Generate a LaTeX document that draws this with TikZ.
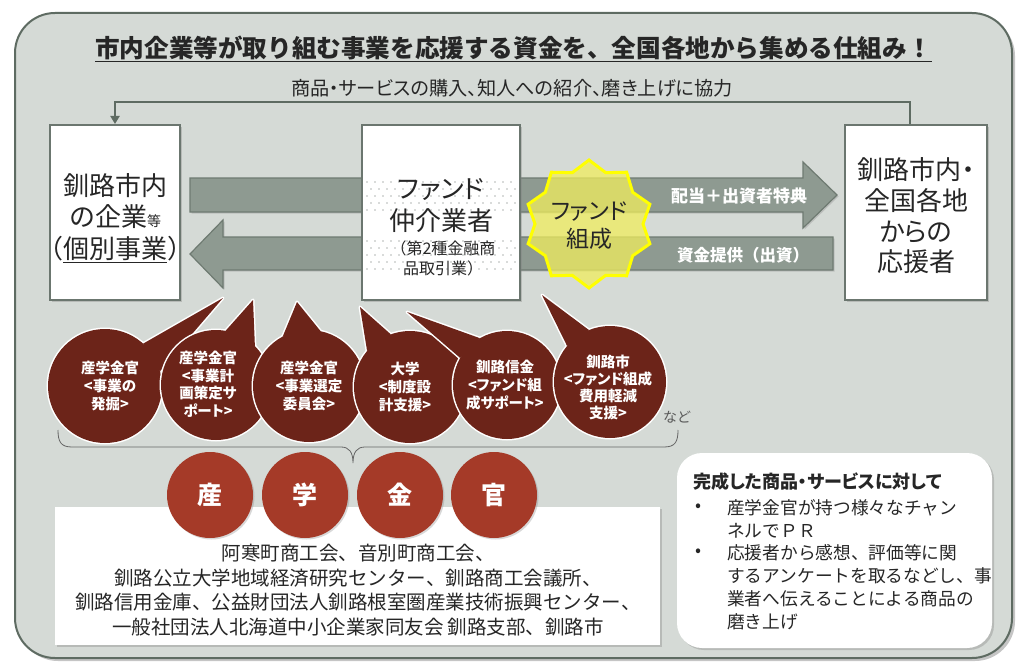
\documentclass[tikz,border=0pt]{standalone}
\usepackage{fontspec}
\setmainfont{Noto Sans CJK JP}
\newfontfamily\jpp{Noto Sans CJK JP}[RawFeature=+palt]
\usetikzlibrary{shadows,calc,arrows.meta}
\definecolor{bgc}{HTML}{D5DAD6}
\definecolor{framec}{HTML}{5E6B62}
\definecolor{arrowc}{HTML}{8E9A91}
\definecolor{arrowe}{HTML}{6E7A71}
\definecolor{boxe}{HTML}{6B766F}
\definecolor{txt}{HTML}{262626}
\definecolor{bubc}{HTML}{6C2419}
\definecolor{redc}{HTML}{A53A28}
\definecolor{starfill}{HTML}{F0EE5E}
\definecolor{stare}{HTML}{FFFF00}
\definecolor{dotc}{HTML}{B4B8B5}
\newcommand{\fs}[2]{\fontsize{#1}{#2}\selectfont}
\newcommand{\spbubble}[7]{%
  \path[draw=white,line width=3pt] (#1,#2) circle[radius=#3pt];
  \path[draw=white,line width=3pt,line join=round] ($(#1,#2)+(#4:#3)$) -- (#6,#7) -- ($(#1,#2)+(#5:#3)$) -- cycle;
  \fill[bubc] (#1,#2) circle[radius=#3pt];
  \fill[bubc] ($(#1,#2)+(#4:#3)$) -- (#6,#7) -- ($(#1,#2)+(#5:#3)$) -- cycle;
}
\begin{document}
\begin{tikzpicture}[x=1pt,y=-1pt,
  wbox/.style={draw=boxe, line width=2pt, fill=white, inner sep=0pt,
    drop shadow={shadow xshift=2pt, shadow yshift=-2pt, opacity=0.35}},
  plainbox/.style={fill=white, inner sep=0pt,
    drop shadow={shadow xshift=2pt, shadow yshift=-2pt, opacity=0.35}},
  bigarrow/.style={fill=arrowc, draw=arrowe, line width=1.2pt,
    drop shadow={shadow xshift=1.5pt, shadow yshift=-1.5pt, opacity=0.3}},
  txtn/.style={text=txt, inner sep=0pt, align=center},
  bubt/.style={text=white, font=\jpp\bfseries\fs{14.5}{18}, align=center, inner sep=0pt},
  redcirc/.style={circle, fill=redc, minimum size=86pt, inner sep=0pt, text=white,
    font=\bfseries\fs{25}{30},
    drop shadow={shadow xshift=1.5pt, shadow yshift=-1.5pt, opacity=0.3}},
  fbline/.style={draw=framec, line width=2.5pt, -{Triangle[width=9pt,length=8pt]}},
]
\useasboundingbox (0,0) rectangle (1024,663);
\fill[white] (0,0) rectangle (1024,663);
% outer frame
\path[fill=bgc, draw=framec, line width=2pt, rounded corners=40pt,
  drop shadow={shadow xshift=3pt, shadow yshift=-3pt, opacity=0.45}]
  (15,13) rectangle (1012,658);
% title
\node[txtn, font=\bfseries\fs{24.6}{30}] (title) at (513.5,47.5)
  {市内企業等が取り組む事業を応援する資金を、全国各地から集める仕組み！};
\draw[txt, line width=1.3pt] ([yshift=-2pt]title.south west) -- ([yshift=-2pt]title.south east);
\node[txtn, font=\jpp\fs{19.2}{22}] (sub) at (512,88)
  {商品・サービスの購入、知人への紹介、磨き上げに協力};
% big arrows
\path[bigarrow] (190,178) -- (803,178) -- (803,162) -- (837,195) -- (803,228) -- (803,212) -- (190,212) -- cycle;
\path[bigarrow] (833,237) -- (223,237) -- (223,220) -- (190,254) -- (223,288) -- (223,270) -- (833,270) -- cycle;
% boxes
\node[wbox, minimum width=130pt, minimum height=175pt] (lbox) at (115,212.5) {};
\node[wbox, minimum width=158pt, minimum height=175pt] (cbox) at (441,212.5) {};
\node[wbox, minimum width=142pt, minimum height=175pt] (rbox) at (916,212.5) {};
% dotted bands inside centre box
\foreach \r in {0,...,4}{
  \pgfmathsetmacro\yy{182+7*\r}
  \pgfmathsetmacro\xo{mod(\r,2)*4}
  \foreach \c in {0,...,18}{
    \fill[dotc] (367+\xo+8*\c, \yy) circle[radius=0.9pt];
  }
}
\foreach \r in {0,...,4}{
  \pgfmathsetmacro\yy{241+7*\r}
  \pgfmathsetmacro\xo{mod(\r,2)*4}
  \foreach \c in {0,...,18}{
    \fill[dotc] (367+\xo+8*\c, \yy) circle[radius=0.9pt];
  }
}
% star
\coordinate (stc) at (589,224);
\draw[stare, line width=3pt, fill=starfill, fill opacity=0.75, line join=miter]
  ($(stc)+(-90:64)$) \foreach \a in {-90,-54,...,234}{ -- ($(stc)+(\a:64)$) -- ($(stc)+(\a+18:54)$) } -- cycle;
\node[txtn, font=\jpp\fs{23}{28}] (startxt) at (589,226) {ファンド\\組成};
% box texts
\node[txtn, font=\fs{26}{31.5}] (ltxt) at (115,218)
  {釧路市内\\の企業{\fs{14}{16}等}\\（\underline{個別事業}）};
\node[txtn, font=\jpp\fs{26}{32}] (ctxt1) at (441,206) {ファンド\\仲介業者};
\node[txtn, font=\fs{16}{20}] (ctxt2) at (443,258) {（第2種金融商\\品取引業）};
\node[txtn, font=\jpp\fs{26}{30.7}] (rtxt) at (916,216) {釧路市内・\\全国各地\\からの\\応援者};
% arrow labels
\node[inner sep=0pt, text=white, font=\bfseries\fs{17}{20}] (lab1) at (739,196) {配当＋出資者特典};
\node[inner sep=0pt, text=white, font=\bfseries\fs{16.5}{20}] (lab2) at (743,255) {資金提供（出資）};
% feedback connector
\draw[fbline] ([xshift=-6pt]rbox.north) |- ($(lbox.north)+(0,-22)$) -- (lbox.north);
% speech bubbles
\spbubble{105}{386}{57}{-48}{-15}{223}{298}
\spbubble{216}{385}{55}{-80}{-45}{253}{300}
\spbubble{309}{386}{56}{-118}{-78}{297}{302}
\spbubble{410}{387}{56}{-140}{-110}{360}{307}
\spbubble{507}{385}{54}{-150}{-120}{407}{312}
\spbubble{610}{382}{56}{-140}{-112}{542}{295}
\node[bubt] (bt1) at (110,386) {産学金官\\<事業の\\発掘>};
\node[bubt, font=\jpp\bfseries\fs{14.5}{17.5}] (bt2) at (208,384) {産学金官\\<事業計\\画策定サ\\ポート>};
\node[bubt] (bt3) at (309,386) {産学金官\\<事業選定\\委員会>};
\node[bubt] (bt4) at (405,387) {大学\\<制度設\\計支援>};
\node[bubt] (bt5) at (505,385) {釧路信金\\<ファンド組\\成サポート>};
\node[bubt, font=\jpp\bfseries\fs{14.5}{17}] (bt6) at (608,387) {釧路市\\<ファンド組成\\費用軽減\\支援>};
\node[inner sep=0pt, text=black!65, font=\fs{14}{16}] (nado) at (677,417) {など};
% brace
\draw[black!60, line width=0.8pt] (58,430) .. controls (58,442) and (61,447) .. (72,447)
  -- (341,447) .. controls (349,447) and (353,452) .. (353,463)
  .. controls (353,452) and (357,447) .. (365,447)
  -- (664,447) .. controls (675,447) and (678,442) .. (678,430);
% bottom box
\node[plainbox, minimum width=605pt, minimum height=138pt] (bbox) at (357.5,576) {};
\node[txtn, font=\fs{19.5}{24.5}] (btxt) at (358,590)
  {阿寒町商工会、音別町商工会、\\
   釧路公立大学地域経済研究センター、釧路商工会議所、\\
   釧路信用金庫、公益財団法人釧路根室圏産業技術振興センター、\\
   一般社団法人北海道中小企業家同友会 釧路支部、釧路市};
% red circles
\node[redcirc] (san) at (210,495) {産};
\node[redcirc] (gaku) at (305,495) {学};
\node[redcirc] (kin) at (400,495) {金};
\node[redcirc] (kan) at (494,495) {官};
% right note box
\path[fill=white, rounded corners=25pt,
  drop shadow={shadow xshift=2pt, shadow yshift=-2pt, opacity=0.35}]
  (677,453) rectangle (992,648);
\node[anchor=west, inner sep=0pt, text=txt, font=\jpp\bfseries\fs{18}{20}] (nhead) at (693,482)
  {完成した商品・サービスに対して};
\node[anchor=center, inner sep=0pt, text=txt, font=\fs{17.7}{20}] (bul1) at (698,508) {•};
\node[anchor=center, inner sep=0pt, text=txt, font=\fs{17.7}{20}] (bul2) at (698,553) {•};
\node[anchor=west, inner sep=0pt, text=txt, font=\fs{17.7}{23}, align=left] (n1) at (727,519)
  {産学金官が持つ様々なチャン\\ネルでＰＲ};
\node[anchor=west, inner sep=0pt, text=txt, font=\fs{17.7}{23}, align=left] (n2) at (727,587.5)
  {応援者から感想、評価等に関\\するアンケートを取るなどし、事\\業者へ伝えることによる商品の\\磨き上げ};
\end{tikzpicture}
\end{document}
